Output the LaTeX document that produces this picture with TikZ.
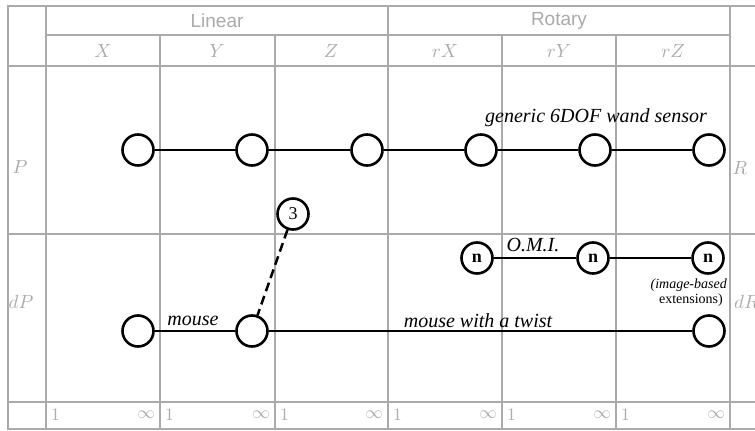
\documentclass[tikz,border=0pt]{standalone}
\usepackage{graphicx}
\usepackage{fontspec}
\newfontfamily\helv{Liberation Sans}
\newfontfamily\timesf{Liberation Serif}
\definecolor{gridgray}{RGB}{170,170,170}
% math letters scaled up from the 10pt math fonts
\newcommand\axmath[1]{\scalebox{1.9}{$#1$}}
\newcommand\rgmath[1]{\scalebox{1.75}{$#1$}}
\begin{document}
\begin{tikzpicture}[x=1pt,y=-1pt,
  gridline/.style={draw=gridgray, line width=2.6pt},
  hdr/.style={text=gridgray, font=\helv\fontsize{19}{19}\selectfont, inner sep=0pt},
  axislbl/.style={text=gridgray, inner sep=0pt},
  rangelbl/.style={text=gridgray, inner sep=0pt},
  dof/.style={circle, draw, line width=2.6pt, minimum size=31pt, inner sep=0pt, fill=white},
  smalldof/.style={dof, font=\timesf\bfseries\fontsize{18}{18}\selectfont},
  link/.style={line width=2.5pt},
  lbl/.style={font=\timesf\itshape\fontsize{20}{20}\selectfont, inner sep=0pt},
  note/.style={font=\timesf\fontsize{14}{15}\selectfont, inner sep=0pt}]
\useasboundingbox (0,0) rectangle (755,431);
\fill[white] (0,0) rectangle (755,431);

% table frame and grid
\draw[gridline] (755,6) -- (8,6) -- (8,429) -- (755,429);
\foreach \x in {46,388,730} \draw[gridline] (\x,6) -- (\x,429);
\foreach \x in {160,275,502,616} \draw[gridline] (\x,35) -- (\x,429);
\draw[gridline] (46,35) -- (730,35);
\foreach \y in {66,234,402} \draw[gridline] (8,\y) -- (755,\y);

% headers
\node[hdr] (lin) at (217,21) {Linear};
\node[hdr] (rot) at (559,21) {Rotary};
\node[axislbl] (hx) at (103,51) {\axmath{X}};
\node[axislbl] (hy) at (217,51) {\axmath{Y}};
\node[axislbl] (hz) at (331,51) {\axmath{Z}};
\node[axislbl] (hrx) at (445,51) {\axmath{rX}};
\node[axislbl] (hry) at (559,51) {\axmath{rY}};
\node[axislbl] (hrz) at (673,51) {\axmath{rZ}};
\node[axislbl] (rp) at (20,167) {\axmath{P}};
\node[axislbl] (rdp) at (21,302) {\axmath{dP}};
\node[axislbl] (rr) at (740,168) {\axmath{R}};
\node[axislbl, anchor=west] (rdr) at (734,302) {\axmath{dR}};

% range row
\foreach \l/\r [count=\i] in {46/160,160/275,275/388,388/502,502/616,616/730} {
  \node[rangelbl, anchor=west] (one\i) at (\l+5,415) {\rgmath{1}};
  \node[rangelbl, anchor=east] (inf\i) at (\r-5,415) {\rgmath{\infty}};
}

% position row: generic 6DOF wand sensor
\node[dof] (p1) at (138,150) {};
\node[dof] (p2) at (252,150) {};
\node[dof] (p3) at (367,150) {};
\node[dof] (p4) at (481,150) {};
\node[dof] (p5) at (595,150) {};
\node[dof] (p6) at (709,150) {};
\draw[link] (p1) -- (p2) -- (p3) -- (p4) -- (p5) -- (p6);
\node[lbl] (wand) at (596,118) {generic 6DOF wand sensor};

% O.M.I. row
\node[smalldof] (n1) at (477,258) {n};
\node[smalldof] (n2) at (593,258) {n};
\node[smalldof] (n3) at (708,258) {n};
\draw[link] (n1) -- (n2) -- (n3);
\node[lbl] (omi) at (533,245) {O.M.I.};
\node[note, anchor=east] (img1) at (727,285) {\itshape (image-based};
\node[note, anchor=east] (img2) at (723,300) {extensions)};

% derivative row: mouse and mouse with a twist
\node[dof] (d1) at (138,331) {};
\node[dof] (d2) at (252,331) {};
\node[dof] (d6) at (709,331) {};
\node[smalldof, font=\timesf\fontsize{18}{18}\selectfont] (three) at (293,214) {3};
\draw[link] (d1) -- (d2) -- (d6);
\draw[link, dash pattern=on 9pt off 5pt] (three) -- (d2);
\node[lbl] (mouse) at (193,321) {mouse};
\node[lbl] (twist) at (478,321) {mouse with a twist};
\end{tikzpicture}
\end{document}
